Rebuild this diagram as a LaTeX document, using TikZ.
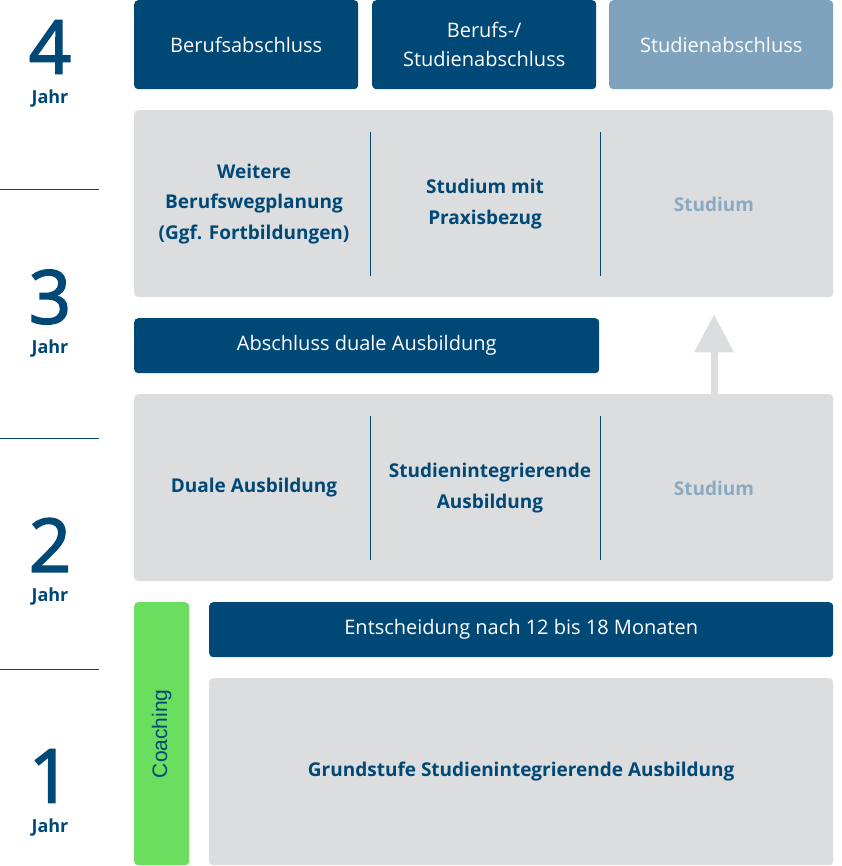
\documentclass[tikz,border=0pt]{standalone}
\usepackage{fontspec}
\setmainfont{Open Sans}
\setsansfont{Liberation Sans}
\newfontfamily\numfont[FakeBold=2.3]{Open Sans}
\usepackage{tikz}
\usetikzlibrary{arrows.meta}
\usetikzlibrary{positioning, calc}

\definecolor{darkblue}{HTML}{004876}
\definecolor{paleblue}{HTML}{7FA3BD}
\definecolor{lightgray}{HTML}{DCDDDF}
\definecolor{coachgreen}{HTML}{6BDD5F}
\definecolor{fadedtext}{HTML}{8AAAC2}

\begin{document}
\begin{tikzpicture}[
    x=1pt, y=-1pt,
    box/.style={rounded corners=4pt, anchor=north west, inner sep=0pt, align=center},
    dark box/.style={box, fill=darkblue, text=white, font=\fontsize{20}{29}\selectfont},
    pale box/.style={box, fill=paleblue, text=white, font=\fontsize{20}{29}\selectfont},
    gray box/.style={box, fill=lightgray},
    cell/.style={text=darkblue, align=center, font=\fontsize{19}{30.5}\selectfont\bfseries},
    faded cell/.style={cell, text=fadedtext},
    divider/.style={darkblue, line width=1pt},
    year line/.style={darkblue, line width=1pt},
    year num/.style={text=darkblue, inner sep=0pt, font=\numfont\fontsize{74}{74}\selectfont},
    year lbl/.style={text=darkblue, inner sep=0pt, font=\fontsize{18}{18}\selectfont\bfseries},
    up arrow/.style={lightgray, line width=7pt, -{Triangle[width=38pt, length=38pt]}}
]
    \useasboundingbox (0,0) rectangle (841,866);

    % Abschluesse (Jahr 4)
    \node[dark box, minimum width=224pt, minimum height=89pt] (beruf) at (134,0) {Berufsabschluss};
    \node[dark box, minimum width=224pt, minimum height=89pt] (berufstudium) at (372,0) {Berufs-/\\Studienabschluss};
    \node[pale box, minimum width=224pt, minimum height=89pt] (studium) at (609,0) {Studienabschluss};

    % Jahr 3
    \node[gray box, minimum width=699pt, minimum height=187pt] (y3) at (134,110) {};
    \node[cell] (weitere) at ($(y3.north west)+(120,94)$) {Weitere\\Berufswegplanung\\(Ggf. Fortbildungen)};
    \node[cell] (praxis) at ($(y3.north west)+(351,94)$) {Studium mit\\Praxisbezug};
    \node[faded cell] (stud3) at ($(y3.north west)+(580,94)$) {Studium};
    \draw[divider] ($(y3.north west)+(236,22)$) -- ++(0,144);
    \draw[divider] ($(y3.north west)+(466,22)$) -- ++(0,144);

    \node[dark box, minimum width=465pt, minimum height=55pt] (dual) at (134,318) {Abschluss duale Ausbildung};

    % Jahr 2
    \node[gray box, minimum width=699pt, minimum height=187pt] (y2) at (134,394) {};
    \node[cell] (duale) at ($(y2.north west)+(120,94)$) {Duale Ausbildung};
    \node[cell] (integ) at ($(y2.north west)+(356,94)$) {Studienintegrierende\\Ausbildung};
    \node[faded cell] (stud2) at ($(y2.north west)+(580,94)$) {Studium};
    \draw[divider] ($(y2.north west)+(236,22)$) -- ++(0,144);
    \draw[divider] ($(y2.north west)+(466,22)$) -- ++(0,144);

    \coordinate (arrowx) at (714,0);
    \draw[up arrow] (y2.north -| arrowx) -- ($(y3.south -| arrowx)+(0,17)$);

    % Jahr 1
    \node[box, fill=coachgreen, minimum width=55pt, minimum height=263pt] (coach) at (134,602) {};
    \node[rotate=90, text=darkblue, font=\sffamily\fontsize{21}{21}\selectfont] (coachtxt) at (coach.center) {Coaching};
    \node[dark box, minimum width=624pt, minimum height=55pt] (entsch) at (209,602) {Entscheidung nach 12 bis 18 Monaten};
    \node[gray box, minimum width=624pt, minimum height=187pt] (grund) at (209,678) {};
    \node[cell] (grundtxt) at (grund.center) {Grundstufe Studienintegrierende Ausbildung};

    % Jahresskala
    \draw[year line] (0,190) -- (99,190);
    \draw[year line] (0,438) -- (99,438);
    \draw[year line] (0,669) -- (99,669);
    \foreach \n/\y in {4/47, 3/297, 2/545, 1/776} {
        \node[year num] (num\n) at (50,\y) {\n};
        \node[year lbl] (jahr\n) at (50,\y+52) {Jahr};
    }
\end{tikzpicture}
\end{document}
